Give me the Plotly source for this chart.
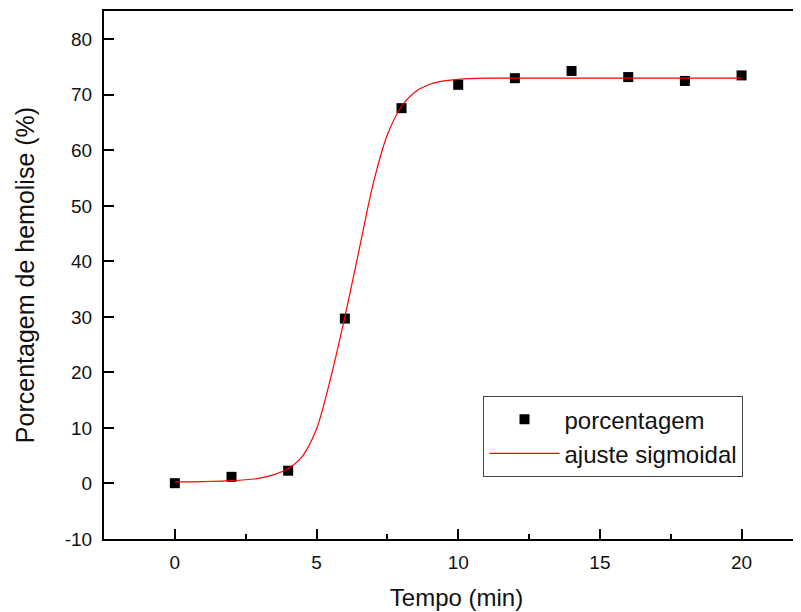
import plotly.graph_objects as go

# measured data
tempo = [0, 2, 4, 6, 8, 10, 12, 14, 16, 18, 20]
porcentagem = [0.05, 1.2, 2.3, 29.7, 67.6, 71.8, 73.0, 74.3, 73.2, 72.5, 73.5]

# sigmoidal fit curve
fit_x = [0, 1, 2, 3, 3.5, 4, 4.5, 5, 5.5, 6, 6.5, 7, 7.5, 8, 8.5, 9, 9.5, 10, 11, 12, 14, 16, 18, 20]
fit_y = [0.3, 0.35, 0.5, 0.95, 1.6, 2.7, 4.9, 9.8, 19.0, 30.0, 42.0, 54.0, 62.8, 67.9, 70.6, 71.9, 72.5, 72.8, 73.0, 73.0, 73.0, 73.0, 73.0, 73.0]

x_ticks = [0, 5, 10, 15, 20]
y_ticks = [-10, 0, 10, 20, 30, 40, 50, 60, 70, 80]

FONT = "Liberation Sans, Arial, sans-serif"
TXT = "#111111"

fig = go.Figure()
fig.add_trace(go.Scatter(
    x=tempo, y=porcentagem, mode="markers", name="porcentagem",
    marker=dict(symbol="square", size=10, color="black"),
))
fig.add_trace(go.Scatter(
    x=fit_x, y=fit_y, mode="lines", name="ajuste sigmoidal",
    line=dict(color="red", width=1.2, shape="spline", smoothing=0.8),
))

fig.update_layout(
    width=801, height=612,
    margin=dict(l=96, r=0, t=3, b=81, autoexpand=False),
    paper_bgcolor="white", plot_bgcolor="white",
    font=dict(family=FONT, color=TXT),
    showlegend=True,
    legend=dict(
        x=0.538, y=0.271, xanchor="left", yanchor="top",
        bordercolor="#444444", borderwidth=1.2, bgcolor="white",
        font=dict(size=24, family=FONT, color=TXT),
        itemwidth=70, tracegroupgap=0, entrywidth=200,
    ),
    xaxis=dict(
        range=[-2.5, 22.38], tickvals=x_ticks, ticktext=[str(v) for v in x_ticks],
        ticks="inside", ticklen=10, tickwidth=1.5, tickcolor="black",
        minor=dict(dtick=2.5, tick0=0, ticks="inside", ticklen=5, tickwidth=1.5, tickcolor="black"),
        showline=True, linecolor="black", linewidth=2, mirror=True,
        showgrid=False, zeroline=False, automargin=False,
        ticklabelstandoff=5,
        tickfont=dict(size=19, family=FONT, color=TXT),
        title=dict(text="Tempo (min)", font=dict(size=24, family=FONT, color=TXT), standoff=17),
    ),
    yaxis=dict(
        range=[-10, 85.1], tickvals=y_ticks, ticktext=[str(v) for v in y_ticks],
        ticks="inside", ticklen=10, tickwidth=1.5, tickcolor="black",
        showline=True, linecolor="black", linewidth=2, mirror=False,
        showgrid=False, zeroline=False, automargin=False,
        ticklabelstandoff=6,
        tickfont=dict(size=19, family=FONT, color=TXT),
        title=dict(text="Porcentagem de hemolise (%)", font=dict(size=25, family=FONT, color=TXT), standoff=23),
    ),
)

fig.write_html("out.html")
